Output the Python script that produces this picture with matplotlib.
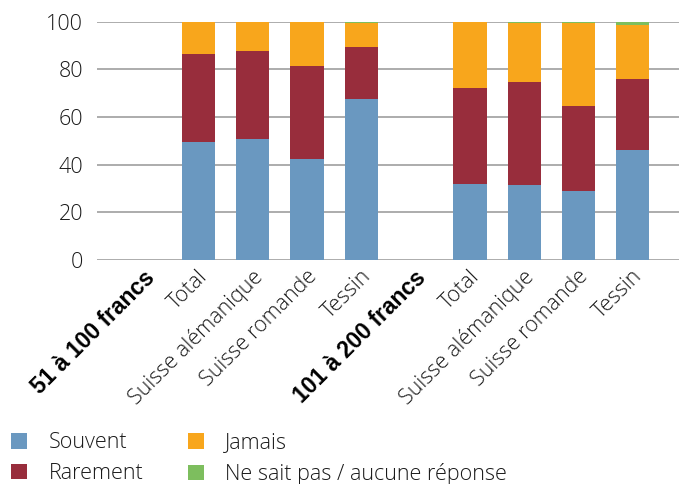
import matplotlib
matplotlib.use("Agg")
import matplotlib.pyplot as plt
import matplotlib.transforms as mtransforms
import numpy as np

categories = ["51 à 100 francs", "Total", "Suisse alémanique", "Suisse romande", "Tessin",
              "101 à 200 francs", "Total", "Suisse alémanique", "Suisse romande", "Tessin"]
bold_labels = [True, False, False, False, False, True, False, False, False, False]
souvent  = [0, 49.6, 50.8, 42.4, 67.6, 0, 32.0, 31.5, 29.0, 46.2]
rarement = [0, 37.0, 37.0, 39.1, 21.9, 0, 40.3, 43.3, 35.7, 29.9]
jamais   = [0, 13.4, 12.2, 18.5, 9.8, 0, 27.7, 24.7, 34.8, 22.6]
nsp      = [0, 0.0, 0.0, 0.0, 0.7, 0, 0.0, 0.5, 0.5, 1.3]
series_names = ["Souvent", "Rarement", "Jamais", "Ne sait pas / aucune réponse"]
colors = ["#6A98C0", "#982D3C", "#F8A61C", "#7DBE5E"]
yticks = [0, 20, 40, 60, 80, 100]

plt.rcParams['font.family'] = ['Open Sans', 'DejaVu Sans']
TXT = '#1a1a1a'
FW = 300
FS = 15.5

fig = plt.figure(figsize=(6.86, 4.84), dpi=100)
ax = fig.add_axes([97/686, 1-260/484, (679-97)/686, (260-21.7)/484])

x = np.arange(len(categories))
w = 0.61
bottom = np.zeros(len(categories))
handles = []
for vals, name, col in zip([souvent, rarement, jamais, nsp], series_names, colors):
    b = ax.bar(x, vals, w, bottom=bottom, color=col, label=name, zorder=3, linewidth=0)
    handles.append(b)
    bottom += np.array(vals)

ax.set_ylim(0, 100)
ax.set_xlim(-0.5 - 20/54.25, 9.5 + 19/54.25)
ax.set_yticks(yticks)
ax.set_yticklabels([str(v) for v in yticks], fontsize=15.5, color=TXT, fontweight=FW)
ax.yaxis.grid(True, color="#A6A6A6", linewidth=1.3, zorder=0)
ax.tick_params(axis='y', length=0, pad=10)
ax.tick_params(axis='x', length=0, pad=0)
for s in ax.spines.values():
    s.set_visible(False)

ax.set_xticks(x)
ax.set_xticklabels(categories, rotation=45, ha='right', va='top', rotation_mode='anchor', fontsize=FS)
offset = mtransforms.ScaledTranslation(-1/100, -6/100, fig.dpi_scale_trans)
for lbl, bld in zip(ax.get_xticklabels(), bold_labels):
    lbl.set_transform(lbl.get_transform() + offset)
    if bld:
        lbl.set_fontweight('bold')
        lbl.set_fontfamily(['Liberation Sans', 'DejaVu Sans'])
        lbl.set_fontsize(16.5)
        lbl.set_color('black')
    else:
        lbl.set_fontweight(FW)
        lbl.set_color(TXT)

leg = fig.legend(handles=handles, labels=series_names, loc='lower left',
                 bbox_to_anchor=(0.002, -0.022), ncol=2, frameon=False, fontsize=FS,
                 handlelength=0.75, handleheight=0.75, handletextpad=1.0, columnspacing=2.05,
                 labelspacing=0.45, borderaxespad=0.0, borderpad=0.45)
for t in leg.get_texts():
    t.set_fontweight(FW)
    t.set_color(TXT)

fig.savefig("out.png", dpi=100)
